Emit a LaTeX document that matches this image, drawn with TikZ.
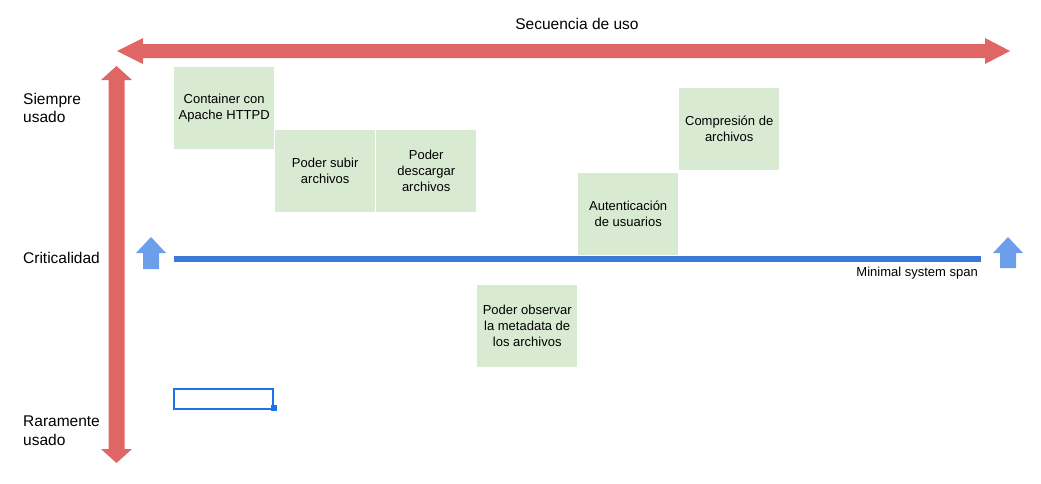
\documentclass[tikz,border=0pt]{standalone}
\usepackage{fontspec}
\setmainfont{Liberation Sans}
\definecolor{redarrow}{HTML}{E06666}
\definecolor{greenbox}{HTML}{D9EAD3}
\definecolor{blueline}{HTML}{3C78D8}
\definecolor{bluearrow}{HTML}{6D9EEB}
\definecolor{selblue}{HTML}{1A73E8}
\begin{document}
\begin{tikzpicture}[x=1pt,y=-1pt,
  card/.style={fill=greenbox,draw=none,minimum width=100pt,minimum height=82pt,inner sep=0pt,
    align=center,font=\fontsize{13}{16}\selectfont,anchor=north west},
  sidelabel/.style={anchor=west,align=left,inner sep=0pt,font=\fontsize{15.5}{18.5}\selectfont},
  redshape/.style={fill=redarrow,draw=none},
  blueshape/.style={fill=bluearrow,draw=none}]
\useasboundingbox (0,0) rectangle (1041,483);
% red axes
\fill[redshape] (117,51) -- (143,38) -- (143,44) -- (985,44) -- (985,38) -- (1010,51)
  -- (985,64) -- (985,58) -- (143,58) -- (143,64) -- cycle;
\fill[redshape] (116.5,66) -- (132,80) -- (124.5,80) -- (124.5,449) -- (132,449) -- (116.5,463)
  -- (101,449) -- (108.5,449) -- (108.5,80) -- (101,80) -- cycle;
% labels
\node[font=\fontsize{15.5}{18.5}\selectfont,inner sep=0pt] (title) at (577,24) {Secuencia de uso};
\node[sidelabel] (siempre) at (23,108) {Siempre\\usado};
\node[sidelabel] (crit) at (23,258) {Criticalidad};
\node[sidelabel] (raro) at (23,430.5) {Raramente\\usado};
% cards
\node[card] (c1) at (174,67) {Container con\\Apache HTTPD};
\node[card] (c2) at (275,130) {Poder subir\\archivos};
\node[card] (c3) at (376,130) {Poder\\descargar\\archivos};
\node[card] (c4) at (477,285) {Poder observar\\la metadata de\\los archivos};
\node[card] (c5) at (578,172.5) {Autenticación\\de usuarios};
\node[card] (c6) at (679,88) {Compresión de\\archivos};
% minimal system span
\coordinate (spanL) at (174,259);
\coordinate (spanR) at (981,259);
\draw[blueline,line width=6pt] (spanL) -- (spanR);
\node[anchor=east,inner sep=0pt,font=\fontsize{13}{16}\selectfont] (span) at (978,273) {Minimal system span};
\fill[blueshape] (151,237) -- (166,253) -- (159,253) -- (159,269) -- (143,269) -- (143,253) -- (136,253) -- cycle;
\fill[blueshape] (1008,237) -- (1023,253) -- (1016,253) -- (1016,268) -- (1000,268) -- (1000,253) -- (993,253) -- cycle;
% selection box
\draw[selblue,line width=2pt] (174,389) rectangle (273,408.5);
\fill[selblue] (271,405) rectangle (277,411);
\end{tikzpicture}
\end{document}
